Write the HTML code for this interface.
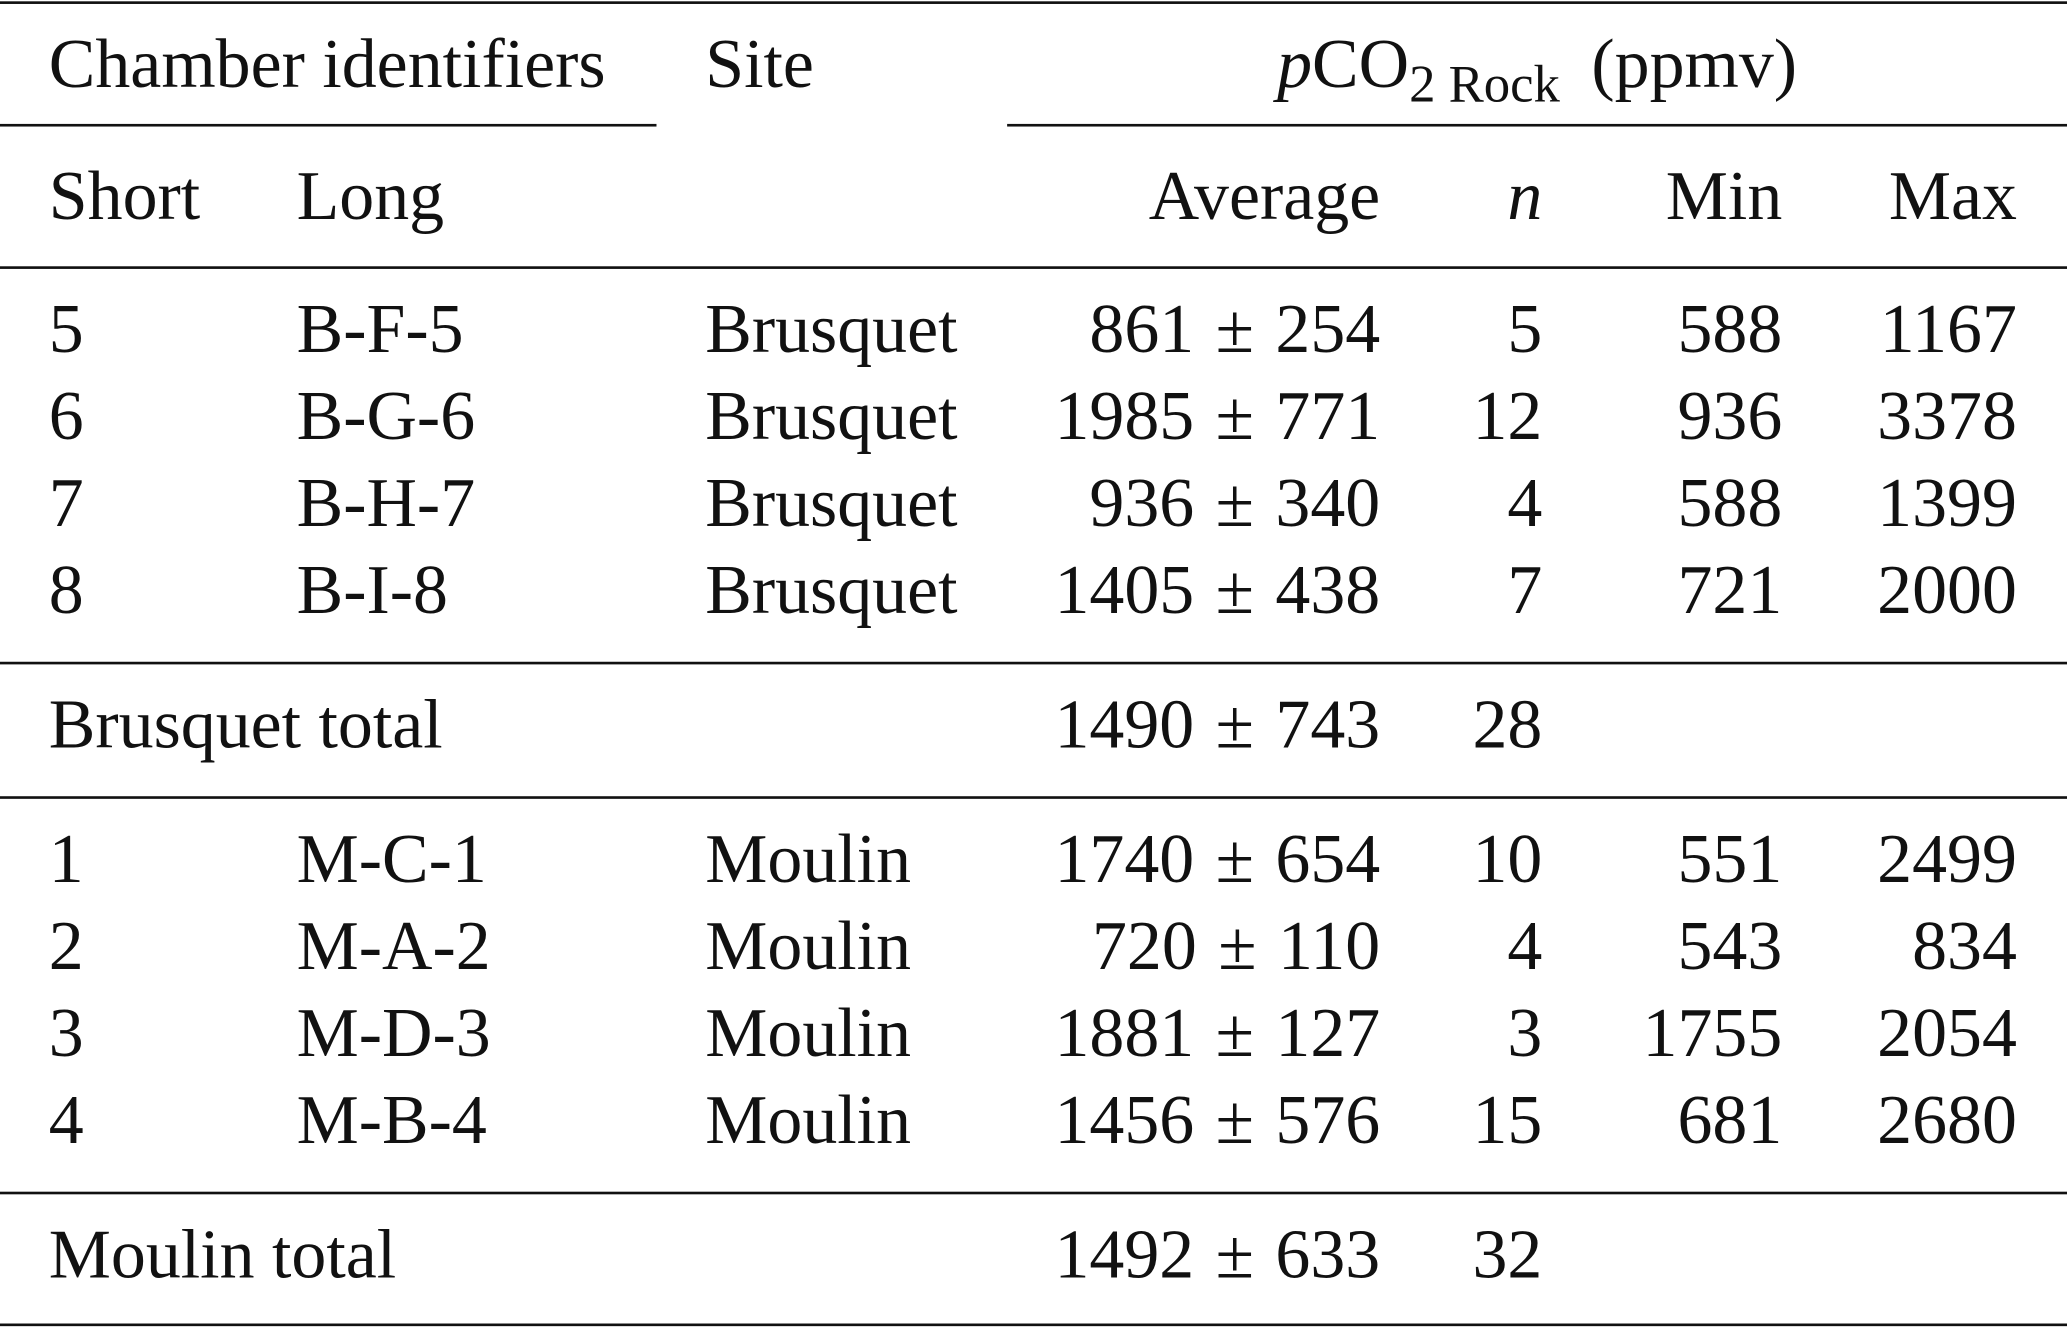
<!DOCTYPE html>
<html><head><meta charset="utf-8"><style>
html,body{margin:0;padding:0;background:#fff;}
body{width:2067px;height:1329px;overflow:hidden;position:relative;}
#w{position:absolute;left:0;top:0;width:1568px;height:1008px;transform:scale(1.31824);transform-origin:0 0;font-family:"Liberation Serif","DejaVu Serif",serif;font-size:53px;color:#111;}
.t{position:absolute;line-height:53px;height:53px;white-space:nowrap;}
.r{text-align:right;}
.l{position:absolute;height:2px;background:#111;}
sub{font-size:40px;vertical-align:-11px;line-height:0;}
.pm{word-spacing:3px;}
</style></head><body><div id="w">
<div class="l" style="left:0;width:1568px;top:1px"></div>
<div class="l" style="left:0;width:498px;top:94px"></div>
<div class="l" style="left:764px;width:804px;top:94px"></div>
<div class="l" style="left:0;width:1568px;top:202px"></div>
<div class="l" style="left:0;width:1568px;top:502px"></div>
<div class="l" style="left:0;width:1568px;top:604px"></div>
<div class="l" style="left:0;width:1568px;top:904px"></div>
<div class="l" style="left:0;width:1568px;top:1004px"></div>

<div class="t" style="left:37px;top:23px">Chamber identifiers</div>
<div class="t" style="left:535px;top:23px">Site</div>
<div class="t" style="left:764px;width:804px;text-align:center;top:23px"><i>p</i>CO<sub>2 Rock</sub>&thinsp; (ppmv)</div>

<div class="t" style="left:37px;top:123px">Short</div>
<div class="t" style="left:225px;top:123px">Long</div>
<div class="t r" style="right:521px;top:123px">Average</div>
<div class="t r" style="right:398px;top:123px"><i>n</i></div>
<div class="t r" style="right:216px;top:123px">Min</div>
<div class="t r" style="right:38px;top:123px">Max</div>

<div id="rows"></div>
<script>
var rows=[
[224,"5","B-F-5","Brusquet","861 ± 254","5","588","1167"],
[290,"6","B-G-6","Brusquet","1985 ± 771","12","936","3378"],
[356,"7","B-H-7","Brusquet","936 ± 340","4","588","1399"],
[422,"8","B-I-8","Brusquet","1405 ± 438","7","721","2000"],
[524,"Brusquet total","","","1490 ± 743","28","",""],
[626,"1","M-C-1","Moulin","1740 ± 654","10","551","2499"],
[692,"2","M-A-2","Moulin","720 ± 110","4","543","834"],
[758,"3","M-D-3","Moulin","1881 ± 127","3","1755","2054"],
[824,"4","M-B-4","Moulin","1456 ± 576","15","681","2680"],
[926,"Moulin total","","","1492 ± 633","32","",""]];
var h="";
rows.forEach(function(r){var y=r[0];
h+='<div class="t" style="left:37px;top:'+y+'px">'+r[1]+'</div>';
h+='<div class="t" style="left:225px;top:'+y+'px">'+r[2]+'</div>';
h+='<div class="t" style="left:535px;top:'+y+'px">'+r[3]+'</div>';
h+='<div class="t r pm" style="right:521px;top:'+y+'px">'+r[4]+'</div>';
h+='<div class="t r" style="right:398px;top:'+y+'px">'+r[5]+'</div>';
h+='<div class="t r" style="right:216px;top:'+y+'px">'+r[6]+'</div>';
h+='<div class="t r" style="right:38px;top:'+y+'px">'+r[7]+'</div>';});
document.getElementById("rows").innerHTML=h;
</script>
</div></body></html>
